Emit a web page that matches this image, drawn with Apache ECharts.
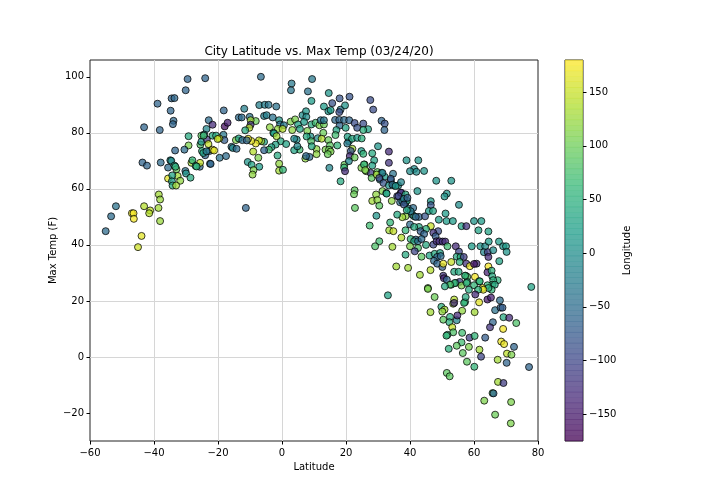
<!DOCTYPE html>
<html><head><meta charset="utf-8">
<style>html,body{margin:0;padding:0;background:#fff}#c{width:720px;height:504px}</style>
<script src="https://cdn.jsdelivr.net/npm/echarts@6/dist/echarts.min.js"></script>
</head><body><div id="c"></div>
<script>
// Each entry: [latitude, max temp (F), longitude]
const southCities=[
[-29.5,99.2,-60],[-24,99.5,-60],[-30.1,95.2,-60],[-38.9,90.4,-60],[-34.5,92.3,-60],[-33.6,92.4,-55],[-34.8,87.9,-60],[-33.9,84.3,-55],[-34.1,83.1,-60],[-43.1,82,-60],
[-38.2,81,-60],[-18.2,88,-60],[-22.9,84.5,-50],[-13.5,85.5,-50],[-21.7,82.9,-130],[-17.9,82.3,-160],[-17,83.6,-145],[-23.6,81.4,-10],[-29.2,78.8,40],[-25.2,79,90],
[-24.3,79.4,-20],[-21.7,79,40],[-20.6,79,40],[-18.3,79.3,-30],[-18,77.4,-70],[-19.6,78,150],[-14.4,77.4,110],[-13.5,78,30],[-29.2,75.5,110],[-33.4,73.7,-60],
[-30.5,74,-50],[-25.5,75.8,80],[-25.2,76.8,10],[-23.5,77.6,-120],[-23,76,150],[-25,73.5,50],[-24,72,-60],[-22.7,73.5,-60],[-21.7,74,170],[-21.2,73.7,165],
[-15.8,75,-40],[-15.4,74.6,0],[-14.2,74.3,-50],[-17.5,71.7,-50],[-19.5,71.1,-40],[-22.5,69,-50],[-25.7,67.9,-55],[-25.6,69.3,150],[-28.3,69.3,130],[-28,70.2,60],
[-27,68.2,30],[-30.2,66.4,-40],[-30,65.5,10],[-28.6,64,40],[-43.6,69.4,-60],[-42.2,68.3,-60],[-37.9,69.4,-50],[-35.6,67.6,-50],[-34.9,70.2,10],[-34.6,70,-5],
[-33.6,68.3,30],[-33,67,100],[-33.3,67.9,50],[-32.6,64.6,130],[-31.8,62.9,120],[-35.6,63.7,165],[-34.3,64.8,30],[-34.4,62.7,20],[-34.2,61.2,40],[-33.1,61.2,130],
[-38.5,58,130],[-38.1,56.2,125],[-43.1,53.8,140],[-38.6,53.2,130],[-41.2,52.3,145],[-41.5,51.3,140],[-46.9,51.3,170],[-46.4,51.3,175],[-46.3,49.3,175],[-38.1,48.5,125],
[-51.9,53.8,-40],[-53.4,50.2,-50],[-55.1,44.9,-50],[-43.9,43.2,165],[-45,39.2,155],[-26.7,68,60],[-22.3,68.9,-60],[-24.6,72.8,30],[-23.6,73.4,-30],[-20.1,77.8,150],
[-24.5,79,70]
];
const equatorCities=[
[-6.6,100,-50],[9.4,99.2,-30],[3,97.6,-30],[2.8,95.2,-35],[8.1,94.8,-40],[14.6,94.2,10],[9.2,91.4,20],[21.1,92.9,-80],[18,92.3,-80],[15.7,90.6,-85],
[27.6,91.7,-90],[28.5,88.3,-90],[-7.1,89.9,-20],[-5.4,90,-20],[-4.2,90,-35],[-1.8,89.4,-40],[-11.8,88.6,-20],[13.1,89.4,20],[14.5,87.7,10],[15.2,88.1,20],
[18.3,88.3,-30],[19.7,89.8,10],[17.9,87.4,-90],[6.4,86.3,0],[7.5,87.7,10],[7.6,85.7,0],[-5.6,86,-20],[-4.8,86.3,-20],[-2.9,85.5,-40],[-10.1,85.7,-40],
[-12.6,85.5,-50],[-8.2,84.2,100],[-9.8,84.5,130],[-9.8,82.9,-120],[-10.2,81.8,140],[-11.5,80.9,40],[-3.8,82,120],[-0.9,84.5,10],[-0.6,83,-40],[0.6,82.7,-30],
[-1.3,81.4,125],[0.2,81.4,140],[-2.7,80,50],[2.7,84,110],[4.1,84.8,110],[5,83,30],[5.6,81.4,30],[3.2,81,120],[7.9,80.7,110],[6.9,83.9,20],
[9.2,83,40],[10.5,83.6,70],[11.7,82.7,110],[13.1,83,100],[12.1,84.5,-40],[13.1,84.5,-30],[16.6,84.6,-55],[17.9,84.6,-60],[19.4,84.6,-50],[21,84.5,-60],
[18,82.6,-60],[22.7,83.5,-90],[23.5,81.8,-85],[25.4,83.3,-90],[26.9,81.3,30],[25.4,81,50],[31.1,84.3,-60],[32.1,83.3,-85],[32,81,-60],[19.9,81.8,30],
[17,81,30],[12.9,80,100],[16.7,79.2,70],[8.9,78.7,10],[7.7,78.7,40],[11.2,78.1,-5],[12.4,77.9,140],[14.5,77.4,100],[9.1,77,80],[17.3,75.5,60],
[13.6,74,110],[15,75.5,90],[14.7,74,100],[15.2,73.3,110],[10.8,74.2,120],[10.8,72.4,120],[14.3,72.4,100],[9.3,75.2,40],[5.5,74,70],[3.8,73.8,30],
[4.8,75.2,-10],[4.6,77.6,0],[3.8,77.9,-10],[-0.4,77,40],[1.3,76,30],[-2,75.8,30],[-3.3,74.9,30],[-4.1,74,70],[-2.5,79.8,20],[-1.7,78.8,130],
[-5.6,76.8,30],[-6.5,77,130],[-7.2,77.3,150],[-8.2,76.2,170],[-9.6,77.1,170],[-10.6,77.9,170],[-12.4,77.4,-50],[-11,77.3,-60],[-5.6,73.8,-60],[-9,73.3,140],
[-7.4,71.1,110],[-10.7,69.6,10],[-9.5,68.6,30],[-7.1,67.9,20],[-8.9,66.7,110],[-9.2,65.1,120],[-1.4,71.9,40],[-0.9,69,120],[-0.9,66.5,130],[0.3,66.8,60],
[7.3,70.8,120],[8.6,71.4,-50],[7.5,71.7,-60],[14.8,67.5,-10],[19.5,68.6,100],[19.4,67.6,60],[19.7,66.3,-130],[18.3,62.7,40],[20.9,77,10],[20.5,78.6,30],
[21.9,77.9,40],[23.5,78.2,20],[24.9,78,50],[20.4,76.2,-30],[22,74.3,130],[21.5,73.5,-80],[24.8,73.5,20],[25.4,72.5,60],[21.2,71.7,-130],[22.7,71.2,100],
[20.9,69.9,-10],[28.2,72.7,40],[30,75.2,10],[33.4,73.3,-130],[33.4,69.3,-120],[28.8,70.2,30],[25.8,68.7,100],[24.8,67.5,110],[28.2,68.3,30],[26.3,66.3,110],
[27.7,65.7,-110],[28,63.9,90],[29.8,66,90],[31.1,65.7,10],[32.1,64.3,20],[34.7,65.4,-40],[30.6,63.3,0],[31.7,62.1,-80],[34,63.1,-70],[33.4,61.2,10],
[35,61.2,10],[36.3,61.2,10],[22.7,59.5,90],[22.5,58.1,100],[22.8,53.2,90],[31.4,59.2,110],[32.6,58.5,20],[36,57.4,-90],[37.1,58.6,-120],[36.9,55.2,-50],
[-11.3,53.2,-60],[25.6,68.7,60],[26,66.7,110],[29.6,65.1,130],[31.4,65.7,-20],[30.4,63.9,-100],[34,63.6,-70],[34.5,61.5,-50],[35.5,61,10]
];
const midCities=[
[38.9,70.2,10],[42.6,70.2,10],[41.3,67.1,0],[40,66.3,0],[42,66.1,0],[44.4,66.4,10],[48.2,62.9,10],[52.9,62.9,10],[51.5,58.3,10],[50.8,57.3,10],
[55.3,54.3,0],[42.3,59.2,10],[37.2,62.4,-10],[32.7,58.3,40],[37.3,58.6,-125],[36.4,57.4,-100],[38.6,58,40],[37.6,55.6,-30],[38.6,55,-50],[39,55.8,40],
[39.5,52.9,-20],[41,53.2,-50],[40.7,50.8,-60],[38.6,50.2,120],[37.6,49.9,130],[36,50.8,40],[41.3,50.2,60],[29.4,58,120],[28.2,55.7,130],[29.8,56,120],
[30.4,54,90],[34.3,55.7,120],[29.5,50.4,10],[27.4,46.9,70],[33.8,48,60],[33.5,45.2,130],[34.8,44.9,150],[37.3,42.6,140],[38.6,45.2,60],[40,47.3,-50],
[42.8,50,-60],[44.7,50.2,-80],[46.5,55.6,20],[46.5,54.2,-80],[45.9,52.1,20],[47.2,52.1,30],[51.1,51.2,20],[49,49,20],[51.4,48.5,20],[53.4,48.5,20],
[60,48.5,10],[62.3,48.5,20],[56.1,46.7,30],[57.6,46.7,-120],[61.4,45.2,30],[64.5,44.8,30],[42.8,46.4,40],[46.5,46.7,150],[45,45.7,50],[41.3,46.4,40],
[43.3,44.9,-70],[44.4,43.9,-60],[48.8,44.9,-90],[47.3,44.3,-120],[48,43.1,-70],[40.2,42.1,60],[41.8,41.9,-60],[41.3,41.3,40],[42.5,41.3,-40],[43.6,42.1,-50],
[45,40,40],[30.4,41.3,70],[29.1,39.5,80],[34.5,39.3,130],[40,39.5,110],[42.5,38.9,80],[41.5,37.7,-100],[38.6,36.5,40],[43.6,35.8,90],[35.7,32.3,130],
[39.4,31.8,130],[43.1,29.3,130],[46.4,31,140],[45.6,24.6,100],[47.3,40.1,-100],[48.3,41.3,-130],[49.2,41.3,-130],[50.2,41.2,-120],[51,41.2,-130],[51.7,39.5,70],
[54.3,39.5,-130],[55.3,37.6,-100],[59.3,39.5,20],[62,39.5,10],[63.5,39.5,0],[64.6,41.2,20],[67.8,41.2,20],[63.1,37.4,-10],[64.3,37.4,-110],[64.5,35.7,-130],
[66,38.1,0],[69.1,39.5,10],[70,39.5,20],[70.2,37.5,10],[67.9,34.2,30],[46.1,36.2,30],[47.7,36.8,40],[49.4,37.1,30],[48.5,35.7,-60],[49.6,36,-50],
[47.5,34.3,-50],[48.5,33.3,-60],[50.1,32.1,-70],[50.4,33.3,170],[52.9,33.9,150],[54.6,35.8,40],[55.8,35.7,50],[56.8,35.7,-110],[55.5,33.9,50],[57.6,33.3,-120],
[58.7,32.4,170],[60.8,33.3,-130],[60,33.2,-150],[53.8,30.4,40],[55.2,30.4,40],[64.5,32.3,175],[64.2,30.2,-140],[65.5,30.8,50],[50.4,29,-120],[50.6,28.1,-140],
[51.5,27.6,-60],[52.9,25.8,40],[54.3,26.4,60],[55.5,26.8,-100],[57.4,29,50],[57.9,28.6,80],[57.9,26.8,40],[60.3,28.6,175],[61.6,27,60],[65.7,28.8,40],
[67.4,27.4,50],[66,27.4,50],[65.7,25.8,60],[64.2,25.6,60],[62.7,24.6,170],[77.9,25,30],[56.1,25.5,110],[60,25.6,60],[38.1,56.4,-20],[39.2,56.8,-70],
[38.1,54.4,-80],[40.2,52,-20],[41.8,50,-60],[39,52.4,40],[33.1,22,30],[57.2,29,60],[57.7,26.4,60],[61.8,27,60],[66.5,25.8,40],[65.5,24,60],
[64.5,24.6,50],[62.9,24,165],[61.3,24,50],[57.2,19.6,60],[53.5,19,130],[54,26.4,60],[52.5,25.8,80],[50.9,25.2,40]
];
const northCities=[
[45.6,24.3,110],[47.7,21.4,100],[49.8,17.9,50],[50.8,16.9,130],[50.1,16.2,120],[46.4,16,130],[53.8,20.5,140],[53.8,19.3,-130],[56.9,19.3,60],[57.4,21.4,40],
[58.4,24,40],[61.6,19.5,165],[60.2,16,130],[56.3,16.5,120],[52.5,14.3,50],[50.4,13.3,90],[52.3,12.4,50],[54.6,13.1,-10],[54.8,14.8,-130],[53.2,10.6,150],
[53.5,8.8,80],[51.7,7.9,60],[51.4,7.6,60],[56.3,8.6,70],[58.6,6.9,-110],[60.2,7.5,60],[63.5,6.9,-70],[56.1,5.2,70],[54.6,4,90],[52.1,2.9,50],
[56.5,1.4,90],[58.4,3.6,110],[61.7,2.6,130],[62.2,0.1,-100],[57.8,-1.7,90],[60.1,-3.5,60],[51.5,-5.7,90],[52.4,-6.9,90],[67.4,-1,130],[70.2,-2.1,-60],
[70.3,1.2,145],[71.7,0.8,110],[68.5,5.5,170],[69.4,4.6,170],[72.5,3.6,-60],[77.2,-3.6,-60],[65.9,12.4,-60],[65,10.6,-120],[69.1,10,175],[69.2,14.2,40],
[71,14,-130],[73.2,12.1,80],[68.1,20.2,-50],[66.6,16.7,-40],[68.3,17.6,-60],[68.9,17.6,-70],[64.2,20.5,-150],[65.3,21.2,-140],[67.5,-8.9,130],[69.2,-9.3,-110],
[65.8,-12.9,80],[66.1,-13,-60],[63.2,-15.6,110],[71.6,-16.1,110],[66.6,-20.6,100],[71.5,-23.7,110],[60.4,22.3,-130]
];
const yTicks=[-20,0,20,40,60,80,100];
const barTicks=[-150,-100,-50,0,50,100,150];
const lonRange=[-175,180];
const viridis=['#440154','#482878','#3e4989','#31688e','#26828e','#1f9e89','#35b779','#6ece58','#b5de2b','#fde725'];

const points=[...southCities,...equatorCities,...midCities,...northCities];
function rampColor(t){
  const p=Math.max(0,Math.min(.99999,t))*(viridis.length-1),i=Math.floor(p),f=p-i;
  const h=s=>[1,3,5].map(k=>parseInt(s.substr(k,2),16));
  const a=h(viridis[i]),b=h(viridis[i+1]);
  return 'rgb('+a.map((v,k)=>Math.round(v+(b[k]-v)*f)).join(',')+')';
}
const binCount=70,binStep=(lonRange[1]-lonRange[0])/binCount;
const bins=[];for(let i=0;i<binCount;i++)bins.push([lonRange[0]+i*binStep]);
const minusSign=v=>String(v).replace('-','\u2212');

const font='DejaVu Sans';
const chart=echarts.init(document.getElementById('c'),null,{renderer:'canvas'});
chart.setOption({
  animation:false,
  backgroundColor:'#fff',
  title:{text:'City Latitude vs. Max Temp (03/24/20)',left:314,top:41,textAlign:'center',
    textStyle:{fontFamily:font,fontSize:12,fontWeight:'normal',color:'#000'}},
  grid:[
    {left:90,top:60,width:448,height:381,show:true,borderColor:'#222',borderWidth:1,backgroundColor:'transparent'},
    {left:565,top:60,width:18,height:381,show:true,borderColor:'#222',borderWidth:1,backgroundColor:'transparent'}
  ],
  xAxis:[
    {type:'value',gridIndex:0,min:-60,max:80,interval:20,name:'Latitude',nameLocation:'middle',nameGap:21,
     nameTextStyle:{fontFamily:font,fontSize:10,color:'#000'},
     axisLine:{show:false,onZero:false},axisTick:{show:true,length:3.5,lineStyle:{color:'#000',width:1}},
     axisLabel:{show:true,fontFamily:font,fontSize:10,color:'#000',margin:7,showMinLabel:true,showMaxLabel:true,formatter:minusSign},
     splitLine:{show:true,showMinLine:false,showMaxLine:false,lineStyle:{color:'#d6d6d6',width:1}}},
    {type:'value',gridIndex:1,min:0,max:1,show:false}
  ],
  yAxis:[
    {type:'value',gridIndex:0,min:-30,max:106,splitNumber:7,name:'Max Temp (F)',nameLocation:'middle',nameGap:32,nameMoveOverlap:false,
     nameTextStyle:{fontFamily:font,fontSize:10,color:'#000'},
     axisLine:{show:false,onZero:false},axisTick:{show:true,length:3.5,customValues:yTicks,lineStyle:{color:'#000',width:1}},
     axisLabel:{show:true,customValues:yTicks,fontFamily:font,fontSize:10,color:'#000',margin:6,formatter:minusSign},
     splitLine:{show:true,showMinLine:false,showMaxLine:false,lineStyle:{color:'#d6d6d6',width:1}}},
    {type:'value',gridIndex:1,min:lonRange[0],max:lonRange[1],position:'right',name:'Longitude',nameLocation:'middle',nameGap:39,
     nameRotate:90,nameTextStyle:{fontFamily:font,fontSize:10,color:'#000'},
     axisLine:{show:false,onZero:false},axisTick:{show:true,length:3.5,customValues:barTicks,lineStyle:{color:'#000',width:1}},
     axisLabel:{show:true,customValues:barTicks,fontFamily:font,fontSize:10,color:'#000',margin:6,formatter:minusSign},
     splitLine:{show:false}}
  ],
  visualMap:{show:false,type:'continuous',seriesIndex:0,dimension:2,min:lonRange[0],max:lonRange[1],inRange:{color:viridis}},
  series:[
    {type:'scatter',xAxisIndex:0,yAxisIndex:0,data:points,symbolSize:7,z:3,
     encode:{x:0,y:1},
     itemStyle:{opacity:.75,borderColor:'#000',borderWidth:1}},
    {type:'custom',xAxisIndex:1,yAxisIndex:1,data:bins,z:2,silent:true,encode:{y:0},
     renderItem(params,api){
       const v=api.value(0);
       const a=api.coord([0,v]),b=api.coord([1,v+binStep]);
       return {type:'rect',shape:{x:a[0],y:b[1]-.2,width:b[0]-a[0],height:a[1]-b[1]+.4},
         style:{fill:rampColor((v+binStep/2-lonRange[0])/(lonRange[1]-lonRange[0])),opacity:.75}};
     }}
  ]
});
</script></body></html>
